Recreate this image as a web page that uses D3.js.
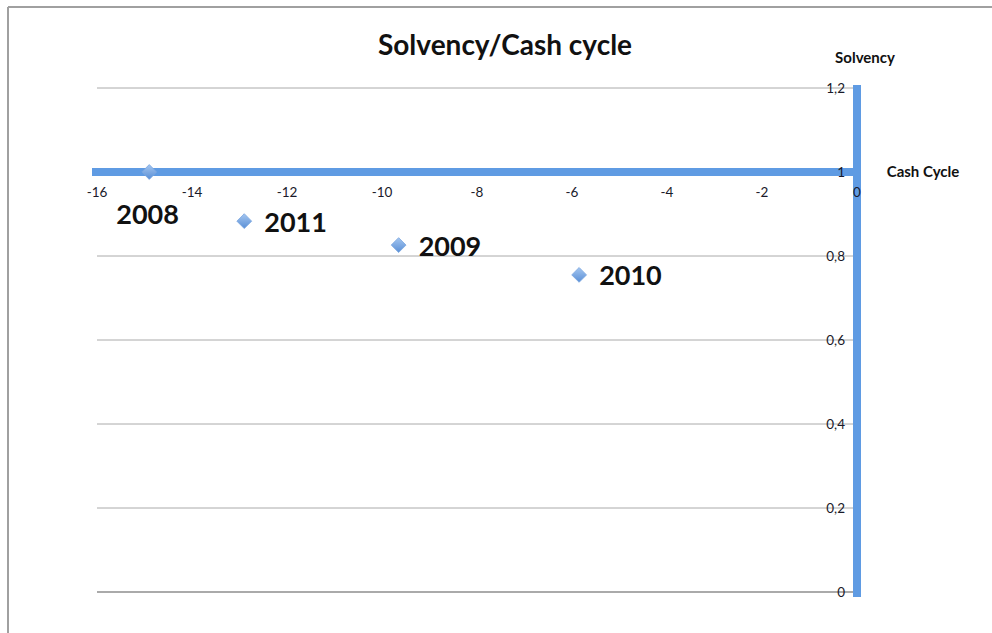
<!DOCTYPE html>
<html><head><meta charset="utf-8">
<script src="https://cdn.jsdelivr.net/npm/d3@7"></script>
<style>body{margin:0;background:#fff}svg{display:block}</style>
</head><body>
<svg id="c" width="992" height="633"></svg>
<script>
const years = ["2008","2009","2010","2011"];
const cashCycle = [-14.9, -9.65, -5.85, -12.9];
const solvency = [1.0, 0.826, 0.755, 0.883];
const xTicks = [-16,-14,-12,-10,-8,-6,-4,-2,0];
const yTicks = [0,0.2,0.4,0.6,0.8,1,1.2];
const title = "Solvency/Cash cycle";
const xTitle = "Cash Cycle";
const yTitle = "Solvency";

const svg = d3.select("#c");
const font = "Lato, 'Open Sans', sans-serif";
const x = d3.scaleLinear().domain([-16,0]).range([97,857]);
const y = d3.scaleLinear().domain([0,1.2]).range([592,88]);
const fmt = v => d3.format(".1~f")(v).replace(".", ",");

// frame
svg.append("line").attr("x1",8).attr("x2",8).attr("y1",7).attr("y2",633).attr("stroke","#a0a0a0").attr("stroke-width",2);
svg.append("line").attr("x1",8).attr("x2",992).attr("y1",7).attr("y2",7).attr("stroke","#a0a0a0").attr("stroke-width",2);

// gridlines
svg.append("g").selectAll("line").data(yTicks).join("line")
  .attr("x1",x(-16)).attr("x2",x(0)).attr("y1",d=>y(d)).attr("y2",d=>y(d))
  .attr("stroke","#aaaaaa").attr("stroke-width",d=>d===0?2:1);

// axes (thick blue)
const axisColor = "#5f9be3";
svg.append("line").attr("x1",x(-16)-5).attr("x2",x(0)+3).attr("y1",y(1)).attr("y2",y(1))
  .attr("stroke",axisColor).attr("stroke-width",8);
svg.append("line").attr("x1",x(0)).attr("x2",x(0)).attr("y1",y(1.2)-3).attr("y2",y(0)+5)
  .attr("stroke",axisColor).attr("stroke-width",8);

// y tick labels
svg.append("g").selectAll("text").data(yTicks).join("text")
  .attr("x",x(0)-12).attr("y",d=>y(d)).attr("dy","0.35em").attr("text-anchor","end")
  .attr("font-family",font).attr("font-size",13.5).attr("fill","#1a1a2a").text(fmt);

// x tick labels
svg.append("g").selectAll("text").data(xTicks).join("text")
  .attr("x",d=>x(d)).attr("y",y(1)+20).attr("dy","0.35em").attr("text-anchor","middle")
  .attr("font-family",font).attr("font-size",13.5).attr("fill","#1a1a2a").text(d=>d);

// titles
svg.append("text").attr("x",505).attr("y",55).attr("text-anchor","middle")
  .attr("font-family",font).attr("font-weight","bold").attr("font-size",28).attr("fill","#111").text(title);
svg.append("text").attr("x",865).attr("y",63).attr("text-anchor","middle")
  .attr("font-family",font).attr("font-weight","bold").attr("font-size",15).attr("fill","#111").text(yTitle);
svg.append("text").attr("x",923).attr("y",y(1)+5).attr("text-anchor","middle")
  .attr("font-family",font).attr("font-weight","bold").attr("font-size",15).attr("fill","#111").text(xTitle);

// points
const defs = svg.append("defs");
const g = defs.append("linearGradient").attr("id","mk").attr("x1",0).attr("y1",0).attr("x2",0).attr("y2",1);
g.append("stop").attr("offset","0%").attr("stop-color","#a4c6f0");
g.append("stop").attr("offset","100%").attr("stop-color","#5a8fd6");
const diamond = d3.symbol().type(d3.symbolDiamond2).size(140);
const pts = years.map((yr,i)=>({yr, cx:cashCycle[i], sv:solvency[i]}));
svg.append("g").selectAll("path").data(pts).join("path")
  .attr("d",diamond).attr("transform",d=>`translate(${x(d.cx)},${y(d.sv)})`)
  .attr("fill","url(#mk)").attr("stroke","#7aa6df").attr("stroke-width",0.8);

// labels: to the right, except points lying on the x axis go below-left
svg.append("g").selectAll("text").data(pts).join("text")
  .attr("x",d=> d.sv===1 ? x(d.cx)-33 : x(d.cx)+20)
  .attr("y",d=> d.sv===1 ? y(d.sv)+43 : y(d.sv)+1)
  .attr("dy","0.35em").attr("font-family",font).attr("font-weight","bold").attr("font-size",27)
  .attr("fill","#111").text(d=>d.yr);
</script>
</body></html>
